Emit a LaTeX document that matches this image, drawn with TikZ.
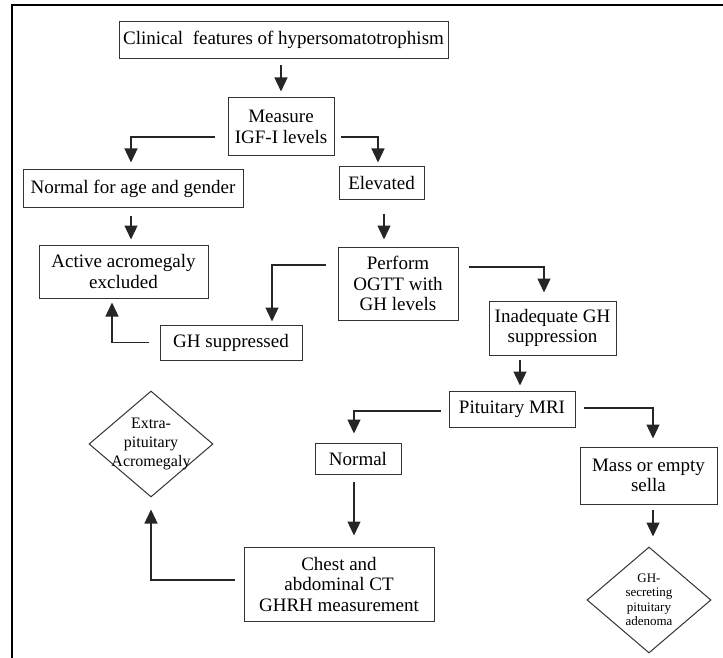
\documentclass[tikz,border=0pt]{standalone}
\usepackage{fontspec}
\setmainfont{Liberation Serif}
\usetikzlibrary{arrows.meta,shapes.geometric}

\begin{document}
\begin{tikzpicture}
        [
            x = 1pt, y = -1pt,
            every node/.style = {font = \fontsize{19}{20.5}\selectfont},
            box/.style = {draw = black!80, line width = 1pt, rectangle, align = center, inner sep = 0pt},
            decision/.style = {draw = black!80, line width = 1pt, diamond, align = center, inner sep = -8pt, minimum width = 124pt, minimum height = 106pt},
            flow/.style = {draw = black!85, line width = 1.3pt, -{Triangle[width = 13pt, length = 14pt]}}
        ]

        \useasboundingbox (0, 0) rectangle (723, 658);
        \draw[line width = 2pt] (723, 5) -- (12, 5) -- (12, 658);

        \node[box, minimum width = 329pt, minimum height = 37pt] (clinical) at (283.5, 40) {Clinical\ \ features of hypersomatotrophism};
        \node[box, minimum width = 106pt, minimum height = 58pt] (measure) at (281, 127) {Measure\\IGF-I levels};
        \node[box, minimum width = 220pt, minimum height = 37pt] (agegender) at (133, 188.5) {Normal for age and gender};
        \node[box, minimum width = 85pt, minimum height = 32pt] (elevated) at (381.5, 183) {Elevated};
        \node[box, minimum width = 169pt, minimum height = 53pt] (excluded) at (123.5, 271.5) {Active acromegaly\\excluded};
        \node[box, minimum width = 120pt, minimum height = 73pt] (ogtt) at (398, 283.5) {Perform\\OGTT with\\GH levels};
        \node[box, minimum width = 142pt, minimum height = 35pt] (suppressed) at (231, 342.5) {GH suppressed};
        \node[box, minimum width = 127pt, minimum height = 54pt] (inadequate) at (552.5, 328) {Inadequate GH\\suppression};
        \node[box, minimum width = 126pt, minimum height = 36pt] (mri) at (512, 409) {Pituitary MRI};
        \node[box, minimum width = 86pt, minimum height = 31pt] (normal) at (358, 458.5) {Normal};
        \node[box, minimum width = 137pt, minimum height = 57pt] (mass) at (648.5, 475.5) {Mass or empty\\sella};
        \node[box, minimum width = 190pt, minimum height = 74pt] (chest) at (339, 584) {Chest and\\abdominal CT\\GHRH measurement};
        \node[decision, font = \fontsize{16}{19}\selectfont] (extra) at (151, 444) {Extra-\\pituitary\\Acromegaly};
        \node[decision, font = \fontsize{13}{14.5}\selectfont] (adenoma) at (649, 600) {GH-\\secreting\\pituitary\\adenoma};

        \draw[flow, shorten <=6pt, shorten >=6pt] (clinical.south -| measure.north) -- (measure.north);
        \draw[flow, shorten <=13pt, shorten >=7pt] ([yshift=-10pt]measure.west) -| ([xshift=-2pt]agegender.north);
        \draw[flow, shorten <=6pt, shorten >=4pt] ([yshift=-10pt]measure.east) -| ([xshift=-3.5pt]elevated.north);
        \draw[flow, shorten <=8pt, shorten >=5pt] ([xshift=-2pt]agegender.south) -- ([xshift=-2pt]agegender.south |- excluded.north);
        \draw[flow, shorten <=14pt, shorten >=7pt] ([xshift=2.5pt]elevated.south) -- ([xshift=2.5pt]elevated.south |- ogtt.north);
        \draw[flow, shorten <=12pt, shorten >=3pt] ([yshift=18.5pt]ogtt.west) -| ([xshift=41pt]suppressed.north);
        \draw[flow, shorten <=10pt, shorten >=8pt] ([yshift=16.5pt]ogtt.east) -| ([xshift=-8.5pt]inadequate.north);
        \draw[flow, shorten <=11pt, shorten >=4pt] (suppressed.west) -| ([xshift=-11.5pt]excluded.south);
        \draw[flow, shorten <=4pt, shorten >=5pt] ([xshift=8pt]mri.north |- inadequate.south) -- ([xshift=8pt]mri.north);
        \draw[flow, shorten <=8pt, shorten >=9pt] ([yshift=-2pt]mri.west) -| ([xshift=-4pt]normal.north);
        \draw[flow, shorten <=8pt, shorten >=8pt] ([yshift=1pt]mri.east) -| ([xshift=4.5pt]mass.north);
        \draw[flow, shorten <=7pt, shorten >=11pt] ([xshift=-4pt]normal.south) -- ([xshift=-4pt]normal.south |- chest.north);
        \draw[flow, shorten <=5pt, shorten >=10pt] ([xshift=4.5pt]mass.south) -- ([xshift=4.5pt]mass.south |- adenoma.north);
        \draw[flow, shorten <=9pt, shorten >=12pt] ([yshift=4pt]chest.west) -| (extra.south);
    \end{tikzpicture}
\end{document}
